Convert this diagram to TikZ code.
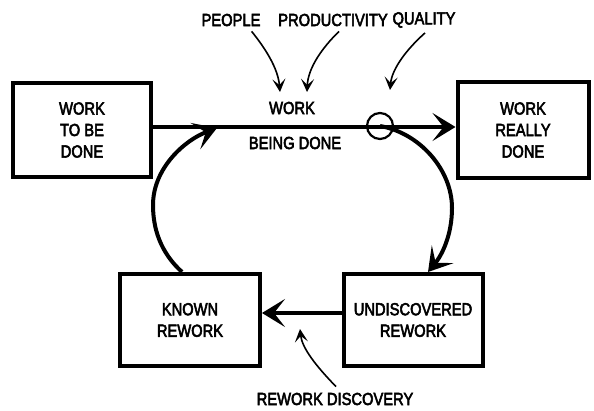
\documentclass[tikz,border=0pt]{standalone}
\usepackage{fontspec}
\setmainfont{Liberation Sans}[FakeStretch=0.84,FakeBold=3]
\usetikzlibrary{arrows.meta}
\begin{document}
\begin{tikzpicture}[x=1pt,y=-1pt,
  font=\fontsize{17.5}{21.5}\selectfont,
  stock/.style={draw,line width=4pt,align=center,inner sep=0pt},
  flow/.style={line width=4pt,-{Stealth[length=23pt,width=28pt,inset=11pt]}},
  infl/.style={line width=1.6pt,-{Stealth[length=13pt,width=13pt,inset=6pt]}},
  lbl/.style={inner sep=1pt}]
\useasboundingbox (0,0) rectangle (594,411);

% stocks
\node[stock,minimum width=138pt,minimum height=94pt] (todo) at (82,130) {WORK\\TO BE\\DONE};
\node[stock,minimum width=131pt,minimum height=96pt] (done) at (523,130) {WORK\\REALLY\\DONE};
\node[stock,minimum width=140pt,minimum height=92pt] (known) at (190,320) {KNOWN\\REWORK};
\node[stock,minimum width=139pt,minimum height=92pt] (undisc) at (413,320) {UNDISCOVERED\\REWORK};

% rate valve and labels
\node[circle,draw,line width=2.2pt,minimum size=26pt,inner sep=0pt] (valve) at (380,126) {};
\node[lbl] (work) at (292,108) {WORK};
\node[lbl] (being) at (295,143) {BEING DONE};
\node[lbl] (people) at (231,20) {PEOPLE};
\node[lbl] (prod) at (333,20) {PRODUCTIVITY};
\node[lbl] (qual) at (424,20) {QUALITY};
\node[lbl] (disc) at (335,399) {REWORK DISCOVERY};

\coordinate (tipA) at (280,92);
\coordinate (tipB) at (307,92);
\coordinate (tipC) at (390,90);
\coordinate (tipD) at (300,329);
\coordinate (mainL) at (217,128);

% main flow
\draw[flow] ([yshift=3pt]todo.east) -- ([yshift=3pt]done.west);
% rework generated
\draw[flow] (valve.center) .. controls (420,133) and (452,170) .. (452,208)
  .. controls (452,235) and (442,255) .. (undisc.north -| 428,0);
% rework done again
\draw[flow] (known.north -| 182,0) .. controls (160,252) and (153,228) .. (153,205)
  .. controls (153,168) and (185,140) .. (mainL);
% rework discovery
\draw[flow] ([yshift=7pt]undisc.west) -- ([yshift=7pt]known.east);

% influences
\draw[infl] (people.south east) ++(-10,4) .. controls (265,48) and (278,68) .. (tipA);
\draw[infl] (prod.south) ++(6,4) .. controls (322,48) and (308,68) .. (tipB);
\draw[infl] (qual.south) ++(1,4) .. controls (408,48) and (392,68) .. (tipC);
\draw[infl] (disc.north) ++(1,-5) .. controls (316,366) and (302,348) .. (tipD);
\end{tikzpicture}
\end{document}
